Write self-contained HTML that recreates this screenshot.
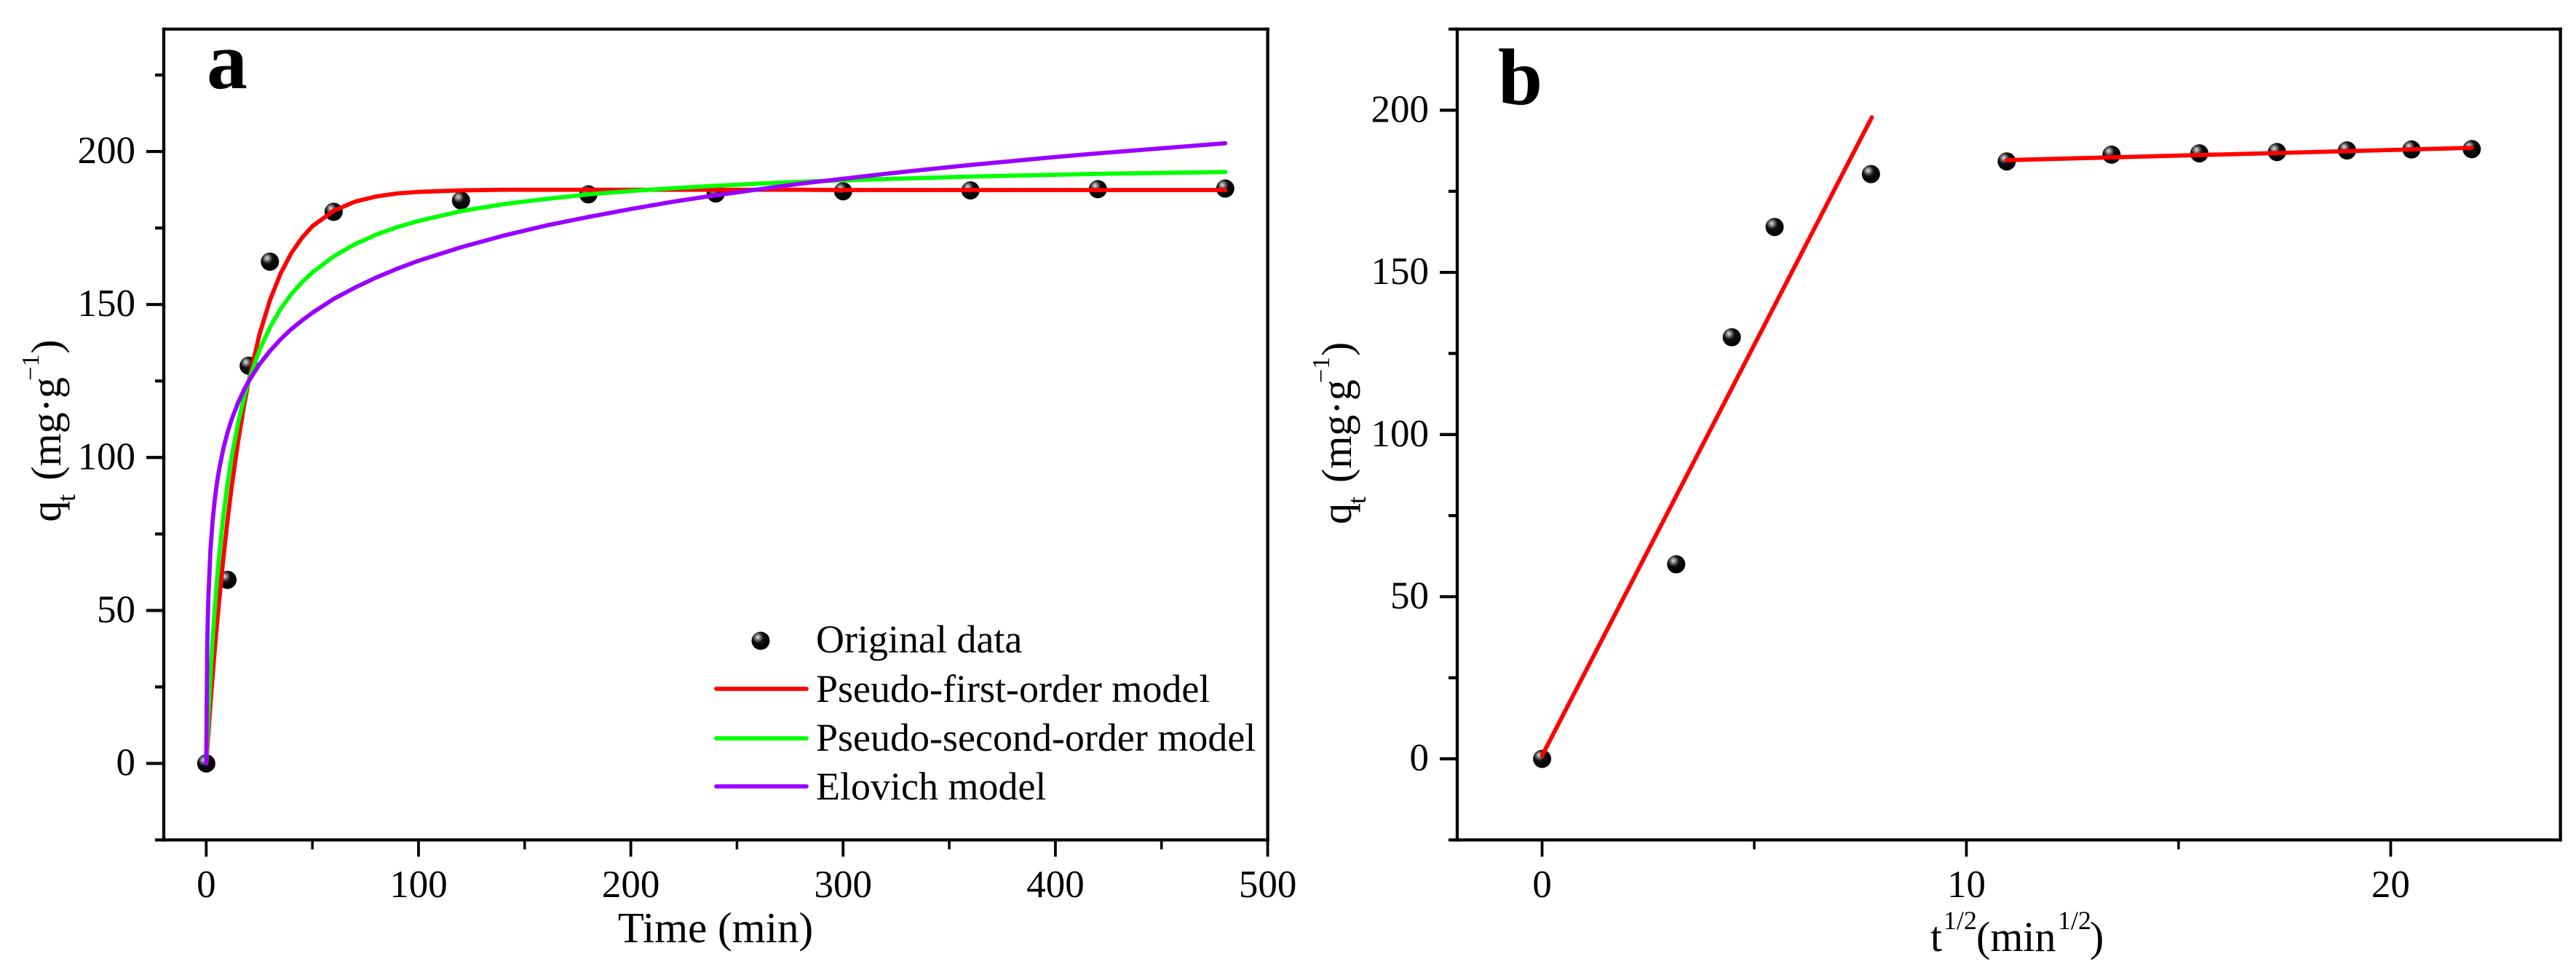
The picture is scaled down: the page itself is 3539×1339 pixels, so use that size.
<!DOCTYPE html>
<html lang="en">
<head>
<meta charset="utf-8">
<title>Adsorption kinetics charts</title>
<style>
html,body{margin:0;padding:0;background:#fff;}
svg{display:block;}
text{font-family:"Liberation Serif",serif;fill:#000;}
</style>
</head>
<body>
<svg id="figure" xmlns="http://www.w3.org/2000/svg" width="3539" height="1339" viewBox="0 0 3539 1339">
  <defs>
    <radialGradient id="sphere" cx="0.37" cy="0.33" r="0.62" fx="0.34" fy="0.3">
      <stop offset="0" stop-color="#e4e4e4"/>
      <stop offset="0.2" stop-color="#8a8a8a"/>
      <stop offset="0.48" stop-color="#111"/>
      <stop offset="1" stop-color="#000"/>
    </radialGradient>
  </defs>
  <rect x="0" y="0" width="3539" height="1339" fill="#fff"/>
  <g id="panelA"></g>
  <g id="panelB"></g>

  <text x="284" y="121" font-size="112" font-weight="bold">a</text>
  <text x="2058" y="143" font-size="110" font-weight="bold">b</text>

  <text x="983" y="1294" font-size="59" text-anchor="middle">Time (min)</text>
  <text y="1306" font-size="58"><tspan x="2652">t</tspan><tspan x="2670" font-size="36" dy="-30">1/2</tspan><tspan x="2715" dy="30">(min</tspan><tspan x="2827" font-size="36" dy="-30">1/2</tspan><tspan x="2871" dy="30">)</tspan></text>

  <text transform="translate(83,716.7) rotate(-90)" font-size="58"><tspan x="0">q</tspan><tspan x="28" font-size="36" dy="20">t</tspan><tspan x="57" dy="-20">(mg·g</tspan><tspan x="194" font-size="34" dy="-30">−1</tspan><tspan x="231" dy="30">)</tspan></text>
  <text transform="translate(1856,720) rotate(-90)" font-size="58"><tspan x="0">q</tspan><tspan x="28" font-size="36" dy="20">t</tspan><tspan x="57" dy="-20">(mg·g</tspan><tspan x="194" font-size="34" dy="-30">−1</tspan><tspan x="231" dy="30">)</tspan></text>

  <g>
    <circle cx="1045" cy="880" r="12.5" fill="url(#sphere)"/>
    <text x="1121" y="896" font-size="54">Original data</text>
    <line x1="984" y1="946" x2="1108" y2="946" stroke="#ff0000" stroke-width="5.8" stroke-linecap="round"/>
    <text x="1121" y="964" font-size="54">Pseudo-first-order model</text>
    <line x1="984" y1="1014" x2="1108" y2="1014" stroke="#00ff00" stroke-width="5.8" stroke-linecap="round"/>
    <text x="1121" y="1031" font-size="54">Pseudo-second-order model</text>
    <line x1="984" y1="1080" x2="1108" y2="1080" stroke="#9900ff" stroke-width="5.8" stroke-linecap="round"/>
    <text x="1121" y="1098" font-size="54">Elovich model</text>
  </g>
</svg>
<script>
// Panel a data
const timeMinutes = [0,10,20,30,60,120,180,240,300,360,420,480];
const qObserved = [0,60,130,164,180.3,184,186,186.3,187,187.3,187.7,187.9];
const fitTimes = [0,0.5,1,2,3,4,5,6,8,10,12,15,18,20,25,30,35,40,45,50,60,70,80,90,100,120,140,160,180,200,220,240,260,280,300,320,340,360,380,400,420,440,460,480];
const pseudoFirstValues = [0,5.1,10,19.5,28.5,37,45,52.6,66.7,79.3,90.6,105.2,117.8,125,140,151.4,160.1,166.7,171.7,175.6,180.6,183.6,185.3,186.3,186.8,187.3,187.5,187.5,187.5,187.5,187.5,187.5,187.5,187.5,187.4,187.4,187.4,187.4,187.4,187.4,187.4,187.4,187.4,187.4];
const pseudoSecondValues = [0,8.1,15.6,28.9,40.5,50.5,59.3,67.2,80.5,91.3,100.3,111.3,120.1,125,135,142.5,148.5,153.3,157.2,160.5,165.7,169.7,172.8,175.3,177.3,180.5,182.8,184.5,186,187.1,188,188.8,189.5,190.1,190.6,191,191.4,191.8,192.1,192.4,192.7,192.9,193.1,193.3];
const elovichValues = [0,39.8,54.2,69.8,79.3,86.1,91.4,95.8,102.7,108.1,112.5,117.9,122.4,124.9,130.4,134.8,138.6,141.9,144.7,147.3,151.8,155.5,158.8,161.7,164.3,168.7,172.5,175.8,178.6,181.2,183.6,185.7,187.6,189.5,191.1,192.7,194.2,195.6,196.9,198.2,199.4,200.5,201.6,202.7];
const xMajorTicksA = [0,100,200,300,400,500];
const xMinorTicksA = [50,150,250,350,450];
const yMajorTicks = [0,50,100,150,200];
const yMinorTicks = [-25,25,75,125,175,225];

// Panel b data
const rootTime = [0,3.16,4.47,5.48,7.75,10.95,13.42,15.49,17.32,18.97,20.49,21.91];
const qObservedB = [0,60,130,164,180.3,184.2,186.3,186.7,187.1,187.6,187.9,188];
const fitOneX = [0,7.77];
const fitOneY = [1,197.8];
const fitTwoX = [10.95,21.91];
const fitTwoY = [184.6,188.4];
const xMajorTicksB = [0,10,20];
const xMinorTicksB = [5,15];

const NS = 'http://www.w3.org/2000/svg';
function make(parent, tag, attrs, name) {
  const el = document.createElementNS(NS, tag);
  for (const k in attrs) el.setAttribute(k, attrs[k]);
  
  
  parent.appendChild(el);
  return el;
}
function scale(d0, d1, r0, r1) {
  return v => r0 + (v - d0) * (r1 - r0) / (d1 - d0);
}
function drawFrame(g, box, xS, yS, xMaj, xMin, yMaj, yMin, prefix) {
  const ax = {stroke:'#000','stroke-width':4.3,'stroke-linecap':'square'};
  make(g,'line',Object.assign({x1:box.l,y1:box.t,x2:box.r,y2:box.t},ax),prefix+'-top-axis-line');
  make(g,'line',Object.assign({x1:box.l,y1:box.b,x2:box.r,y2:box.b},ax),prefix+'-x-axis-line');
  make(g,'line',Object.assign({x1:box.l,y1:box.t,x2:box.l,y2:box.b},ax),prefix+'-y-axis-line');
  make(g,'line',Object.assign({x1:box.r,y1:box.t,x2:box.r,y2:box.b},ax),prefix+'-right-axis-line');
  xMaj.forEach(v => {
    make(g,'line',{x1:xS(v),y1:box.b,x2:xS(v),y2:box.b+23,stroke:'#000','stroke-width':3.8},prefix+'-x-tick-'+v);
    const t = make(g,'text',{x:xS(v),y:1232,'font-size':53,'text-anchor':'middle'},prefix+'-x-tick-label-'+v);
    t.textContent = String(v);
  });
  xMin.forEach(v => {
    make(g,'line',{x1:xS(v),y1:box.b,x2:xS(v),y2:box.b+13,stroke:'#000','stroke-width':3.5},prefix+'-x-minor-tick-'+v);
  });
  yMaj.forEach(v => {
    make(g,'line',{x1:box.l-24,y1:yS(v),x2:box.l,y2:yS(v),stroke:'#000','stroke-width':4.2},prefix+'-y-tick-'+v);
    const t = make(g,'text',{x:box.l-39,y:yS(v)+16,'font-size':53,'text-anchor':'end'},prefix+'-y-tick-label-'+v);
    t.textContent = String(v);
  });
  yMin.forEach(v => {
    make(g,'line',{x1:box.l-12,y1:yS(v),x2:box.l,y2:yS(v),stroke:'#000','stroke-width':4.2},prefix+'-y-minor-tick-'+v);
  });
}
function drawMarkers(g, xs, ys, xS, yS, prefix) {
  xs.forEach((x, i) => {
    make(g,'circle',{cx:xS(x),cy:yS(ys[i]),r:12.5,fill:'url(#sphere)'},prefix+'-data-point-'+i);
  });
}
function drawLine(g, xs, ys, xS, yS, color, name) {
  const pts = xs.map((x, i) => xS(x).toFixed(2)+','+yS(ys[i]).toFixed(2)).join(' ');
  make(g,'polyline',{points:pts,fill:'none',stroke:color,'stroke-width':5.8,'stroke-linejoin':'round','stroke-linecap':'round'},name);
}

// Panel a
const gA = document.getElementById('panelA');
const boxA = {l:225,r:1741.6,t:40,b:1153.5};
const xA = scale(-20,500,boxA.l,boxA.r);
const yA = scale(-25,240,boxA.b,boxA.t);
drawFrame(gA,boxA,xA,yA,xMajorTicksA,xMinorTicksA,yMajorTicks,yMinorTicks,'panel-a');
drawMarkers(gA,timeMinutes,qObserved,xA,yA,'panel-a');
drawLine(gA,fitTimes,pseudoFirstValues,xA,yA,'#ff0000','pseudo-first-order-curve');
drawLine(gA,fitTimes,pseudoSecondValues,xA,yA,'#00ff00','pseudo-second-order-curve');
drawLine(gA,fitTimes,elovichValues,xA,yA,'#9900ff','elovich-curve');

// Panel b
const gB = document.getElementById('panelB');
const boxB = {l:2002,r:3517.6,t:40,b:1153.5};
const xB = scale(-2,24,boxB.l,boxB.r);
const yB = scale(-25,225,boxB.b,boxB.t);
drawFrame(gB,boxB,xB,yB,xMajorTicksB,xMinorTicksB,yMajorTicks,yMinorTicks,'panel-b');
drawMarkers(gB,rootTime,qObservedB,xB,yB,'panel-b');
drawLine(gB,fitOneX,fitOneY,xB,yB,'#ff0000','intraparticle-fit-line-stage-1');
drawLine(gB,fitTwoX,fitTwoY,xB,yB,'#ff0000','intraparticle-fit-line-stage-2');
</script>
</body>
</html>
